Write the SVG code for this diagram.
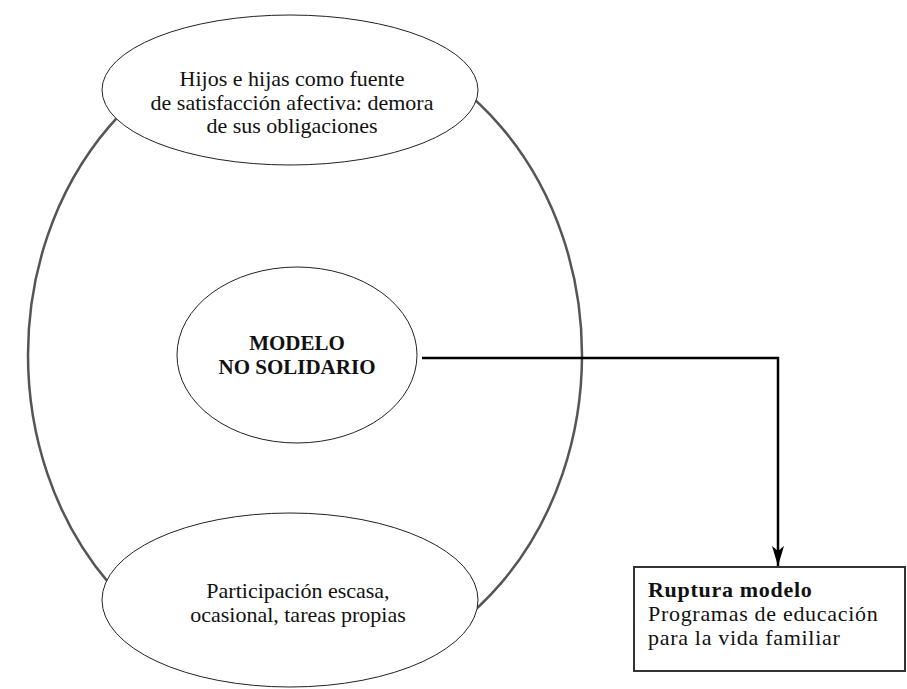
<svg xmlns="http://www.w3.org/2000/svg" width="907" height="689" viewBox="0 0 907 689">
<style>
text{font-family:"Liberation Serif","Times New Roman",serif;font-size:22px;fill:#111}
.b{font-weight:bold}
.el{fill:#fff;stroke:#222;stroke-width:1}
.c{text-anchor:middle}
.bx{letter-spacing:0.7px}
</style>
<defs>
<marker id="ah" markerWidth="20" markerHeight="12" refX="20" refY="6" orient="auto" markerUnits="userSpaceOnUse" viewBox="0 0 20 12">
<path d="M0,0 L20,6 L0,12 L5,6 Z" fill="#000"/>
</marker>
</defs>
<g id="outer"><ellipse cx="305" cy="355" rx="277" ry="323" fill="none" stroke="#555" stroke-width="2.5"/></g>
<g id="connectors">
<path d="M422,358 H778 V566" fill="none" stroke="#000" stroke-width="2.5" marker-end="url(#ah)"/>
</g>
<g id="top"><ellipse class="el" cx="290" cy="90" rx="188" ry="75"/>
<text class="c" x="292" y="86">Hijos e hijas como fuente</text>
<text class="c" x="292" y="110">de satisfacción afectiva: demora</text>
<text class="c" x="292" y="133">de sus obligaciones</text></g>
<g id="mid"><ellipse class="el" cx="297" cy="355" rx="120" ry="88"/>
<text class="c b" x="297" y="350" style="font-size:21px">MODELO</text>
<text class="c b" x="297" y="374" style="font-size:21px">NO SOLIDARIO</text></g>
<g id="bottom"><ellipse class="el" cx="290" cy="600" rx="188" ry="87"/>
<text class="c" x="298" y="598">Participación escasa,</text>
<text class="c" x="298" y="622">ocasional, tareas propias</text></g>
<g id="box"><rect x="634" y="567" width="271" height="104" fill="#fff" stroke="#333" stroke-width="2"/>
<text class="b bx" x="648" y="597">Ruptura modelo</text>
<text class="bx" x="648" y="621">Programas de educación</text>
<text class="bx" x="648" y="645">para la vida familiar</text></g>
</svg>
